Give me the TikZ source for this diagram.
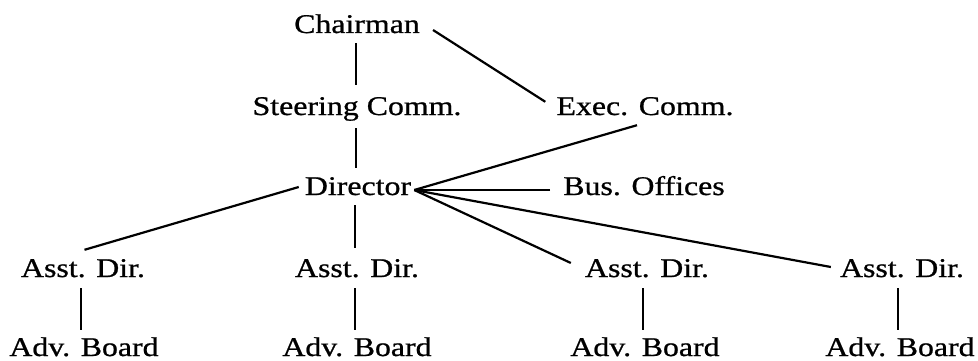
\documentclass[tikz,border=0pt]{standalone}
\usepackage{fontspec}
\setmainfont{Liberation Serif}[FakeStretch=1.18,FakeBold=0.8]
\begin{document}
\begin{tikzpicture}[x=1pt,y=-1pt,
  lbl/.style={anchor=base,inner sep=0pt,text height=19pt,text depth=6pt,font=\fontsize{27pt}{30pt}\selectfont},
  conn/.style={line width=2.2pt}]
\useasboundingbox (0,0) rectangle (978,361);
\fill[white] (0,0) rectangle (978,361);
\node[lbl] (chair) at (357,33) {Chairman};
\node[lbl] (steer) at (357,115) {Steering Comm.};
\node[lbl] (exec) at (645,115) {Exec. Comm.};
\node[lbl] (dir) at (358,195) {Director};
\node[lbl] (bus) at (644,195) {Bus. Offices};
\node[lbl] (a1) at (83,277) {Asst. Dir.};
\node[lbl] (a2) at (357,277) {Asst. Dir.};
\node[lbl] (a3) at (647,277) {Asst. Dir.};
\node[lbl] (a4) at (902,277) {Asst. Dir.};
\node[lbl] (b1) at (84,356) {Adv. Board};
\node[lbl] (b2) at (357,356) {Adv. Board};
\node[lbl] (b3) at (645,356) {Adv. Board};
\node[lbl] (b4) at (900,356) {Adv. Board};
\coordinate (hub) at ([xshift=3pt,yshift=-1.5pt]dir.east);
% connectors
\draw[conn] ([xshift=-1pt,yshift=-4pt]chair.south) -- ([xshift=-1pt,yshift=11pt]steer.north);
\draw[conn] ([xshift=-1pt,yshift=-7pt]steer.south) -- ([xshift=-2pt,yshift=8pt]dir.north);
\draw[conn] ([xshift=13pt,yshift=-3.5pt]chair.east) -- ([xshift=-11pt,yshift=-6pt]exec.north west);
\draw[conn] ([xshift=-8pt,yshift=-4pt]exec.south) -- (hub);
\draw[conn] ([xshift=-13pt,yshift=-1.5pt]bus.west) -- (hub);
\draw[conn] ([xshift=-6pt,yshift=1.5pt]dir.west) -- ([xshift=1.5pt,yshift=8pt]a1.north);
\draw[conn] ([xshift=-3pt,yshift=-4pt]dir.south) -- ([xshift=-2pt,yshift=10pt]a2.north);
\draw[conn] (hub) -- ([xshift=-14pt,yshift=7.5pt]a3.west);
\draw[conn] (hub) -- ([xshift=-9pt,yshift=3.5pt]a4.west);
\draw[conn] ([xshift=-2pt,yshift=-5pt]a1.south) -- ([xshift=-3pt,yshift=7pt]b1.north);
\draw[conn] ([xshift=-2pt,yshift=-5pt]a2.south) -- ([xshift=-2pt,yshift=7pt]b2.north);
\draw[conn] ([xshift=-4pt,yshift=-5pt]a3.south) -- ([xshift=-2pt,yshift=7pt]b3.north);
\draw[conn] ([xshift=-4pt,yshift=-5pt]a4.south) -- ([xshift=-2pt,yshift=7pt]b4.north);
\end{tikzpicture}
\end{document}
